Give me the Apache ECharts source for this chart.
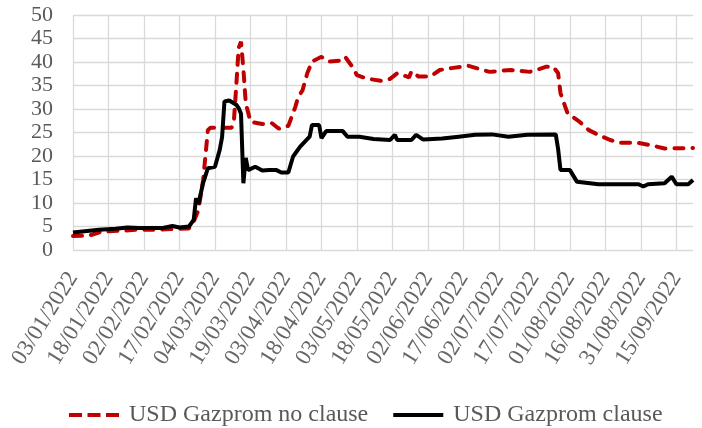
<!DOCTYPE html>
<html>
<head>
<meta charset="utf-8">
<script src="https://cdn.jsdelivr.net/npm/echarts@6/dist/echarts.min.js"></script>
<style>
  html, body { margin: 0; padding: 0; background: #fff; }
  #chart { width: 702px; height: 428px; }
</style>
</head>
<body>
<div id="chart"></div>
<script>
// USD Gazprom, with and without clause (dd/mm/yyyy)
const noClauseDates = ['03/01/2022','10/01/2022','15/01/2022','23/01/2022','30/01/2022','04/02/2022','11/02/2022','21/02/2022','23/02/2022','25/02/2022','27/02/2022','01/03/2022','02/03/2022','11/03/2022','12/03/2022','13/03/2022','14/03/2022','15/03/2022','16/03/2022','17/03/2022','19/03/2022','24/03/2022','28/03/2022','31/03/2022','02/04/2022','04/04/2022','07/04/2022','08/04/2022','10/04/2022','12/04/2022','14/04/2022','18/04/2022','21/04/2022','26/04/2022','28/04/2022','01/05/2022','03/05/2022','07/05/2022','13/05/2022','17/05/2022','20/05/2022','23/05/2022','25/05/2022','26/05/2022','29/05/2022','03/06/2022','07/06/2022','12/06/2022','19/06/2022','28/06/2022','07/07/2022','15/07/2022','19/07/2022','22/07/2022','25/07/2022','27/07/2022','28/07/2022','29/07/2022','31/07/2022','05/08/2022','09/08/2022','13/08/2022','18/08/2022','22/08/2022','30/08/2022','04/09/2022','10/09/2022','22/09/2022'];
const noClause = [3.0,3.1,3.9,4.1,4.3,4.3,4.4,4.6,6.0,8.5,14.9,25.5,26.0,26.0,27.5,35.0,43.0,44.3,38.5,31.3,27.3,26.8,27.0,25.8,26.2,26.4,30.5,32.3,34.0,37.6,40.1,41.1,40.1,40.3,41.1,39.0,37.2,36.5,36.0,36.4,37.6,37.1,36.7,38.0,36.9,36.9,38.3,38.7,39.2,37.9,38.3,37.9,38.5,39.0,39.0,37.6,33.4,31.9,29.1,27.3,25.5,24.5,23.4,22.8,22.8,22.3,21.6,21.7];

const clauseDates = ['03/01/2022','14/01/2022','21/01/2022','26/01/2022','31/01/2022','10/02/2022','14/02/2022','17/02/2022','21/02/2022','23/02/2022','24/02/2022','25/02/2022','27/02/2022','01/03/2022','04/03/2022','06/03/2022','07/03/2022','08/03/2022','10/03/2022','13/03/2022','14/03/2022','15/03/2022','16/03/2022','17/03/2022','18/03/2022','21/03/2022','24/03/2022','27/03/2022','30/03/2022','01/04/2022','04/04/2022','06/04/2022','09/04/2022','13/04/2022','14/04/2022','17/04/2022','18/04/2022','20/04/2022','27/04/2022','29/04/2022','04/05/2022','10/05/2022','17/05/2022','19/05/2022','20/05/2022','26/05/2022','28/05/2022','31/05/2022','08/06/2022','15/06/2022','22/06/2022','29/06/2022','06/07/2022','14/07/2022','26/07/2022','27/07/2022','28/07/2022','01/08/2022','04/08/2022','13/08/2022','30/08/2022','01/09/2022','03/09/2022','10/09/2022','13/09/2022','15/09/2022','20/09/2022','22/09/2022'];
const clause = [3.7,4.3,4.5,4.8,4.7,4.7,5.1,4.8,5.0,6.4,11.0,9.8,14.3,17.4,17.7,21.3,24.0,31.6,31.8,30.9,30.2,29.0,14.2,19.6,17.0,17.7,16.9,17.0,17.0,16.5,16.5,19.9,22.0,24.1,26.6,26.6,23.8,25.3,25.3,24.1,24.1,23.6,23.4,24.5,23.4,23.4,24.5,23.5,23.7,24.1,24.5,24.6,24.1,24.5,24.6,21.5,17.0,17.0,14.5,14.0,14.0,13.5,14.0,14.2,15.6,14.0,14.0,14.9];

const seriesNames = ['USD Gazprom no clause', 'USD Gazprom clause'];
const yTicks = { min: 0, max: 50, step: 5 };
const firstDay = '03/01/2022';
const lastDay = '22/09/2022';
const labelStepDays = 15;

const DAY = 86400000;
function toUTC(s) {
  const p = s.split('/');
  return Date.UTC(+p[2], +p[1] - 1, +p[0]);
}
const t0 = toUTC(firstDay);
const dayOf = s => Math.round((toUTC(s) - t0) / DAY);
const pad = n => (n < 10 ? '0' : '') + n;
function dateLabel(v) {
  if (v % labelStepDays !== 0) return '';
  const d = new Date(t0 + v * DAY);
  return pad(d.getUTCDate()) + '/' + pad(d.getUTCMonth() + 1) + '/' + d.getUTCFullYear();
}

const font = '"Liberation Serif", "DejaVu Serif", serif';
const textColor = '#595959';
const gridColor = '#d9d9d9';
const red = '#c00000';

const chart = echarts.init(document.getElementById('chart'));
chart.setOption({
  animation: false,
  grid: { left: 73, right: 9, top: 15, bottom: 178, containLabel: false },
  xAxis: {
    type: 'value',
    min: 0,
    max: dayOf(lastDay),
    interval: labelStepDays,
    axisLine: { show: false },
    axisTick: { show: false },
    axisLabel: {
      rotate: 58,
      margin: 24,
      showMaxLabel: false,
      fontFamily: font,
      fontSize: 23,
      color: '#666666',
      formatter: dateLabel
    },
    splitLine: { show: true, showMaxLine: false, lineStyle: { color: gridColor, width: 1.3 } }
  },
  yAxis: {
    type: 'value',
    min: yTicks.min,
    max: yTicks.max,
    interval: yTicks.step,
    axisLine: { show: false },
    axisTick: { show: false },
    axisLabel: { margin: 20, fontFamily: font, fontSize: 22, color: textColor },
    splitLine: { show: true, lineStyle: { color: gridColor, width: 1.3 } }
  },
  legend: {
    left: 64,
    top: 398,
    itemWidth: 50,
    itemHeight: 4,
    itemGap: 25,
    textStyle: { fontFamily: font, fontSize: 24, color: textColor, padding: [0, 0, 0, 5] },
    data: [
      { name: seriesNames[0], icon: 'path://M0,0h13v4h-13zM18.5,0h13v4h-13zM37,0h13v4h-13z' },
      { name: seriesNames[1], icon: 'path://M0,0h50v4h-50z' }
    ]
  },
  series: [
    {
      name: seriesNames[0],
      type: 'line',
      showSymbol: false,
      symbol: 'none',
      color: red,
      lineStyle: { color: red, width: 4, type: [9, 9], cap: 'round' },
      data: noClauseDates.map((d, i) => [dayOf(d), noClause[i]])
    },
    {
      name: seriesNames[1],
      type: 'line',
      showSymbol: false,
      symbol: 'none',
      color: '#000000',
      lineStyle: { color: '#000000', width: 4 },
      data: clauseDates.map((d, i) => [dayOf(d), clause[i]])
    }
  ]
});
</script>
</body>
</html>
